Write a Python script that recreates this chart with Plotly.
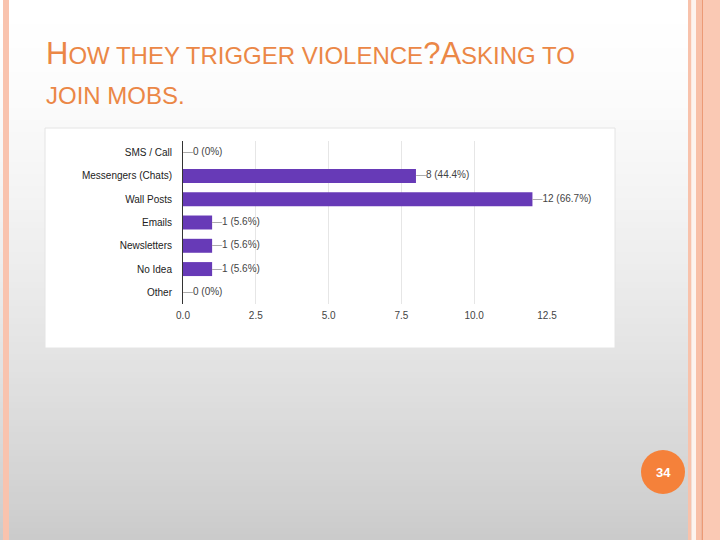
import plotly.graph_objects as go

categories = ["SMS / Call", "Messengers (Chats)", "Wall Posts", "Emails", "Newsletters", "No Idea", "Other"]
counts = [0, 8, 12, 1, 1, 1, 0]
percent_labels = ["0%", "44.4%", "66.7%", "5.6%", "5.6%", "5.6%", "0%"]
x_ticks = [0, 2.5, 5.0, 7.5, 10.0, 12.5]

W, H = 720, 540
L, R, T, B = 183, 547, 141, 304  # plot area in pixels


def px(x):
    return (x - L) / (R - L)


def py(y):
    return (B - y) / (B - T)


FONT = "Arial, Liberation Sans, sans-serif"

labels = [f"<span style='color:#9a9a9a'>—</span>{c} ({p})" for c, p in zip(counts, percent_labels)]

fig = go.Figure()
fig.add_trace(go.Bar(
    x=counts, y=categories, orientation="h",
    marker=dict(color="#673ab7", line=dict(width=0)),
    hoverinfo="skip",
))
fig.add_trace(go.Scatter(
    x=counts, y=categories, mode="text", text=labels,
    textposition="middle right",
    textfont=dict(family=FONT, size=10, color="#444444"),
    cliponaxis=False, hoverinfo="skip",
))

shapes = []
# slide background gradient
n = 90
for i in range(n):
    t = (i + 0.5) / n
    v = int(round(255 - 52 * t ** 1.5))
    col = f"rgb({v},{v},{v})"
    shapes.append(dict(type="rect", xref="paper", yref="paper",
                       x0=px(0), x1=px(W), y0=py(i * H / n), y1=py((i + 1) * H / n + 0.6),
                       fillcolor=col, line=dict(width=0), layer="below"))
# decorative stripes
for x0, x1, col in [(3, 9, "#f9c3ae"),
                    (688, 691.5, "#f8c2ab"), (691.5, 696, "#fdf3ee"), (696, 701.7, "#f8c0a8"),
                    (701.7, 703, "#ec9a76"), (703, 720, "#fac9b4")]:
    shapes.append(dict(type="rect", xref="paper", yref="paper",
                       x0=px(x0), x1=px(x1), y0=py(0), y1=py(H),
                       fillcolor=col, line=dict(width=0), layer="below"))
# chart card
shapes.append(dict(type="rect", xref="paper", yref="paper",
                   x0=px(45), x1=px(615), y0=py(128), y1=py(348),
                   fillcolor="#ffffff", line=dict(color="#e4e4e4", width=1), layer="below"))
# page number circle
shapes.append(dict(type="circle", xref="paper", yref="paper",
                   x0=px(641), x1=px(685), y0=py(450), y1=py(494),
                   fillcolor="#f5813a", line=dict(width=0), layer="above"))

big = "<span style='font-size:31px'>"
annotations = [
    dict(xref="paper", yref="paper", x=px(44), y=py(53.5), xanchor="left", yanchor="middle",
         text=f"{big}H</span>OW THEY TRIGGER VIOLENCE{big}?A</span>SKING TO",
         showarrow=False, font=dict(family=FONT, size=24, color="#eb8746")),
    dict(xref="paper", yref="paper", x=px(44), y=py(95.5), xanchor="left", yanchor="middle",
         text="JOIN MOBS.",
         showarrow=False, font=dict(family=FONT, size=24, color="#eb8746")),
    dict(xref="paper", yref="paper", x=px(663), y=py(472), xanchor="center", yanchor="middle",
         text="<b>34</b>", showarrow=False, font=dict(family=FONT, size=13, color="#ffffff")),
]

fig.update_layout(
    width=W, height=H,
    margin=dict(l=L, r=W - R, t=T, b=H - B, pad=0),
    paper_bgcolor="#ffffff", plot_bgcolor="#ffffff",
    showlegend=False, bargap=0.4,
    shapes=shapes, annotations=annotations,
    xaxis=dict(range=[0, 12.5], tickvals=x_ticks, tickformat=".1f",
               showgrid=True, gridcolor="#e6e6e6", gridwidth=1, zeroline=False,
               showline=False, ticks="", ticklabelstandoff=4,
               tickfont=dict(family=FONT, size=10, color="#444444"), fixedrange=True),
    yaxis=dict(autorange="reversed", showgrid=False, zeroline=False,
               showline=True, linecolor="#333333", linewidth=1, ticks="",
               ticklabelstandoff=8,
               tickfont=dict(family=FONT, size=10, color="#222222"), fixedrange=True),
)

fig.write_html("out.html", config={"displayModeBar": False},
               post_script="document.body.style.margin='0';document.body.style.overflow='hidden';")
